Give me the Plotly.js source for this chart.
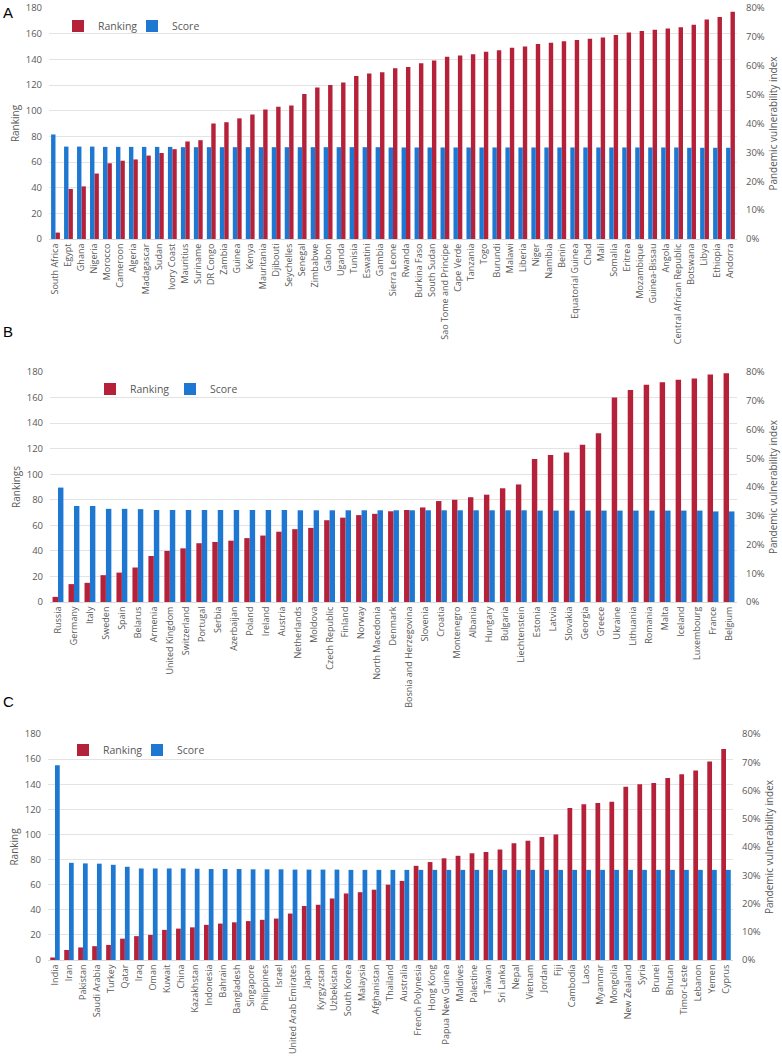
<!DOCTYPE html>
<html>
<head>
<meta charset="utf-8">
<script src="https://cdn.plot.ly/plotly-3.0.1.min.js"></script>
<style>html,body{margin:0;padding:0;background:#fff;}#chart{width:782px;height:1057px;}</style>
</head>
<body>
<div id="chart"></div>
<script>
// ---------- Panel A (Africa) ----------
const africaCountries = ["South Africa","Egypt","Ghana","Nigeria","Morocco","Cameroon","Algeria","Madagascar","Sudan","Ivory Coast",
  "Mauritius","Suriname","DR Congo","Zambia","Guinea","Kenya","Mauritania","Djibouti","Seychelles","Senegal",
  "Zimbabwe","Gabon","Uganda","Tunisia","Eswatini","Gambia","Sierra Leone","Rwanda","Burkina Faso","South Sudan",
  "Sao Tome and Principe","Cape Verde","Tanzania","Togo","Burundi","Malawi","Liberia","Niger","Namibia","Benin",
  "Equatorial Guinea","Chad","Mali","Somalia","Eritrea","Mozambique","Guinea-Bissau","Angola","Central African Republic","Botswana",
  "Libya","Ethiopia","Andorra"];
const africaRanking = [5,39,41,51,59,61,62,65,67,70,
  76,77,90,91,94,97,101,103,104,113,
  118,120,122,127,129,130,133,134,137,139,
  142,143,144,146,147,149,150,152,153,154,
  155,156,157,159,161,162,163,164,165,167,
  171,173,177];
const africaScore = [36.2,32.0,32.0,32.0,31.9,31.9,31.9,31.9,31.9,31.9,
  31.8,31.8,31.8,31.8,31.8,31.8,31.8,31.8,31.8,31.8,
  31.8,31.8,31.8,31.8,31.8,31.8,31.7,31.7,31.7,31.7,
  31.7,31.7,31.7,31.7,31.7,31.7,31.7,31.7,31.7,31.7,
  31.7,31.7,31.7,31.7,31.7,31.7,31.7,31.7,31.7,31.6,
  31.6,31.6,31.6];

// ---------- Panel B (Europe) ----------
const europeCountries = ["Russia","Germany","Italy","Sweden","Spain","Belarus","Armenia","United Kingdom","Switzerland","Portugal",
  "Serbia","Azerbaijan","Poland","Ireland","Austria","Netherlands","Moldova","Czech Republic","Finland","Norway",
  "North Macedonia","Denmark","Bosnia and Herzegovina","Slovenia","Croatia","Montenegro","Albania","Hungary","Bulgaria","Liechtenstein",
  "Estonia","Latvia","Slovakia","Georgia","Greece","Ukraine","Lithuania","Romania","Malta","Iceland",
  "Luxembourg","France","Belgium"];
const europeRanking = [4,14,15,21,23,27,36,40,42,46,
  47,48,50,52,55,57,58,64,66,68,
  69,71,72,74,79,80,82,84,89,92,
  112,115,117,123,132,160,166,170,172,174,
  175,178,179];
const europeScore = [39.8,33.4,33.4,32.4,32.4,32.3,32.0,32.0,32.0,32.0,
  32.0,32.0,32.0,32.0,32.0,31.9,31.9,31.9,31.9,31.9,
  31.9,31.9,31.9,31.9,31.9,31.9,31.9,31.9,31.9,31.9,
  31.8,31.8,31.8,31.8,31.8,31.8,31.8,31.8,31.8,31.8,
  31.8,31.5,31.5];

// ---------- Panel C (Asia & Oceania) ----------
const asiaCountries = ["India","Iran","Pakistan","Saudi Arabia","Turkey","Qatar","Iraq","Oman","Kuwait","China",
  "Kazakhstan","Indonesia","Bahrain","Bangladesh","Singapore","Philippines","Israel","United Arab Emirates","Japan","Kyrgyzstan",
  "Uzbekistan","South Korea","Malaysia","Afghanistan","Thailand","Australia","French Polynesia","Hong Kong","Papua New Guinea","Maldives",
  "Palestine","Taiwan","Sri Lanka","Nepal","Vietnam","Jordan","Fiji","Cambodia","Laos","Myanmar",
  "Mongolia","New Zealand","Syria","Brunei","Bhutan","Timor-Leste","Lebanon","Yemen","Cyprus"];
const asiaRanking = [2,8,10,11,12,17,19,20,24,25,
  26,28,29,30,31,32,33,37,43,44,
  49,53,54,56,60,63,75,78,81,83,
  85,86,88,93,95,98,100,121,124,125,
  126,138,140,141,145,148,151,158,168];
const asiaScore = [68.9,34.4,34.2,34.1,33.7,33.0,32.4,32.4,32.4,32.4,
  32.3,32.2,32.2,32.2,32.1,32.1,32.1,32.0,32.0,32.0,
  32.0,31.9,31.9,31.9,31.9,31.9,31.9,31.9,31.9,31.9,
  31.9,31.9,31.9,31.9,31.9,31.9,31.9,31.9,31.9,31.9,
  31.9,31.9,31.9,31.9,31.9,31.9,31.9,31.9,31.9];

// ---------- styling ----------
const RED = "#B6213A";
const BLUE = "#1E78D2";
const FONT = "Open Sans, Noto Sans, sans-serif";
const GREY = "#595959";
const W = 782, H = 1057;
const BW = 0.34;

function px(x){ return x / W; }
function py(y){ return 1 - y / H; }

const panels = [
  {cats: africaCountries, rank: africaRanking, score: africaScore, xa: "x", yl: "y", yr: "y2", leg: "legend", scoreLeft: true},
  {cats: europeCountries, rank: europeRanking, score: europeScore, xa: "x2", yl: "y3", yr: "y4", leg: "legend2", scoreLeft: false},
  {cats: asiaCountries, rank: asiaRanking, score: asiaScore, xa: "x3", yl: "y5", yr: "y6", leg: "legend3", scoreLeft: false}
];

const data = [];
panels.forEach(p => {
  data.push({
    type: "bar", name: "Ranking", x: p.cats, y: p.rank,
    xaxis: p.xa, yaxis: p.yl, legend: p.leg, legendrank: 1,
    width: BW, offset: p.scoreLeft ? 0 : -BW,
    marker: {color: RED, line: {width: 0}},
    hovertemplate: "%{x}<br>Ranking: %{y}<extra></extra>"
  });
  data.push({
    type: "bar", name: "Score", x: p.cats, y: p.score,
    xaxis: p.xa, yaxis: p.yr, legend: p.leg, legendrank: 2,
    width: BW, offset: p.scoreLeft ? -BW : 0,
    marker: {color: BLUE, line: {width: 0}},
    hovertemplate: "%{x}<br>Score: %{y}%<extra></extra>"
  });
});

function xAxis(anchor, l, r){
  return {
    domain: [px(l), px(r)], anchor: anchor, type: "category",
    tickmode: "linear", tick0: 0, dtick: 1, tickangle: -90,
    tickfont: {family: FONT, size: 9, color: GREY},
    showgrid: false, zeroline: false, showline: true, linecolor: "#d9d9d9", linewidth: 1,
    ticks: "", automargin: false, fixedrange: true
  };
}
function yLeft(anchor, top, bottom, title){
  return {
    domain: [py(bottom), py(top)], anchor: anchor, range: [0, 180], dtick: 20,
    tickfont: {family: FONT, size: 9.5, color: GREY},
    showgrid: true, gridcolor: "#e3e3e3", gridwidth: 1, zeroline: false, showline: false,
    ticks: "", ticklabelstandoff: 6,
    title: {text: title, font: {family: FONT, size: 10, color: GREY}, standoff: 4},
    automargin: false, fixedrange: true
  };
}
function yRight(anchor, overlay, title){
  return {
    anchor: anchor, overlaying: overlay, side: "right", range: [0, 80], dtick: 10, ticksuffix: "%",
    tickfont: {family: FONT, size: 9.5, color: GREY},
    showgrid: false, zeroline: false, showline: false, ticks: "", ticklabelstandoff: 8,
    title: {text: title, font: {family: FONT, size: 10, color: GREY}, standoff: 6},
    automargin: false, fixedrange: true
  };
}
function legendAt(x, y, ew){
  return {
    orientation: "h", x: px(x), y: py(y), xanchor: "left", yanchor: "middle",
    bgcolor: "rgba(0,0,0,0)", borderwidth: 0,
    font: {family: FONT, size: 10.5, color: GREY},
    entrywidth: ew, entrywidthmode: "pixels", itemclick: false, itemdoubleclick: false
  };
}

const layout = {
  width: W, height: H,
  margin: {l: 0, r: 0, t: 0, b: 0},
  paper_bgcolor: "#ffffff", plot_bgcolor: "#ffffff",
  barmode: "overlay", showlegend: true,
  xaxis: xAxis("y", 49, 737),
  yaxis: yLeft("x", 8, 239, "Ranking"),
  yaxis2: yRight("x", "y", "Pandemic vulnerability index"),
  xaxis2: xAxis("y3", 50, 737),
  yaxis3: yLeft("x2", 372, 602, "Rankings"),
  yaxis4: yRight("x2", "y3", "Pandemic vulnerability index"),
  xaxis3: xAxis("y5", 48, 733),
  yaxis5: yLeft("x3", 734, 960, "Ranking"),
  yaxis6: yRight("x3", "y5", "Pandemic vulnerability index"),
  legend: legendAt(58, 26, 29),
  legend2: legendAt(90, 389, 35),
  legend3: legendAt(63, 750, 29),
  annotations: [
    {text: "A", x: px(8), y: py(12), xref: "paper", yref: "paper", showarrow: false, xanchor: "center", yanchor: "middle", font: {family: "Liberation Sans, Arial, sans-serif", size: 15, color: "#000"}},
    {text: "B", x: px(8), y: py(332), xref: "paper", yref: "paper", showarrow: false, xanchor: "center", yanchor: "middle", font: {family: "Liberation Sans, Arial, sans-serif", size: 15, color: "#000"}},
    {text: "C", x: px(8), y: py(701), xref: "paper", yref: "paper", showarrow: false, xanchor: "center", yanchor: "middle", font: {family: "Liberation Sans, Arial, sans-serif", size: 15, color: "#000"}}
  ]
};

Plotly.newPlot("chart", data, layout, {displayModeBar: false, staticPlot: true});
</script>
</body>
</html>
